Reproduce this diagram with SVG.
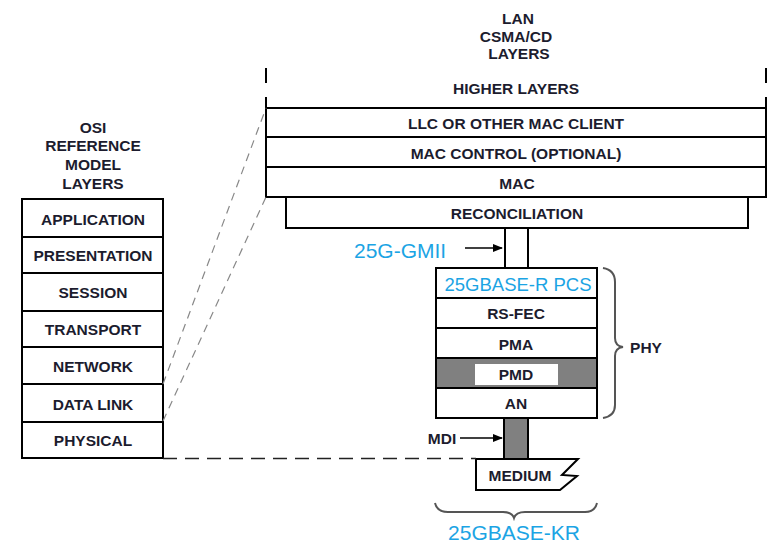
<svg xmlns="http://www.w3.org/2000/svg" width="767" height="542" viewBox="0 0 767 542">
<defs>
<style>
.t{font-family:"Liberation Sans",Arial,sans-serif;font-size:15.5px;font-weight:bold;fill:#1c1c2e;text-anchor:middle;dominant-baseline:central}
.b{font-family:"Liberation Sans",Arial,sans-serif;fill:#1ba4e4;dominant-baseline:central}
.box{fill:#fff;stroke:#000;stroke-width:2}
.gray{fill:#808080;stroke:#000;stroke-width:2}
.ln{stroke:#000;stroke-width:2;fill:none}
.dash{stroke:#888;stroke-width:1.2;stroke-dasharray:8 6;fill:none}
.dash2{stroke:#222;stroke-width:1.5;stroke-dasharray:14 8;fill:none}
.brace{stroke:#555;stroke-width:2;fill:none}
</style>
<marker id="arr" viewBox="0 0 10 10" refX="9" refY="5" markerWidth="10" markerHeight="10" markerUnits="userSpaceOnUse" orient="auto">
<path d="M0,1 L10,5 L0,9 z" fill="#000"/>
</marker>
</defs>
<rect width="767" height="542" fill="#fff"/>

<g id="osi-title">
<text class="t" x="93" y="127">OSI</text>
<text class="t" x="93" y="145">REFERENCE</text>
<text class="t" x="93" y="164">MODEL</text>
<text class="t" x="93" y="183">LAYERS</text>
</g>
<g id="osi-application"><rect class="box" x="22" y="199" width="141" height="38"/><text class="t" x="93" y="219">APPLICATION</text></g>
<g id="osi-presentation"><rect class="box" x="22" y="237" width="141" height="36"/><text class="t" x="93" y="255">PRESENTATION</text></g>
<g id="osi-session"><rect class="box" x="22" y="273" width="141" height="38"/><text class="t" x="93" y="292">SESSION</text></g>
<g id="osi-transport"><rect class="box" x="22" y="311" width="141" height="36"/><text class="t" x="93" y="329">TRANSPORT</text></g>
<g id="osi-network"><rect class="box" x="22" y="347" width="141" height="37"/><text class="t" x="93" y="366">NETWORK</text></g>
<g id="osi-datalink"><rect class="box" x="22" y="384" width="141" height="38"/><text class="t" x="93" y="404">DATA LINK</text></g>
<g id="osi-physical"><rect class="box" x="22" y="422" width="141" height="36"/><text class="t" x="93" y="440">PHYSICAL</text></g>

<g id="lan-title">
<text class="t" x="518" y="18">LAN</text>
<text class="t" x="516" y="36">CSMA/CD</text>
<text class="t" x="519" y="53">LAYERS</text>
</g>
<g id="higher-layers">
<line class="ln" x1="266" y1="68" x2="266" y2="83"/>
<line class="ln" x1="766" y1="68" x2="766" y2="83"/>
<line class="ln" x1="266" y1="97" x2="266" y2="108"/>
<line class="ln" x1="766" y1="97" x2="766" y2="108"/>
<text class="t" x="516" y="88">HIGHER LAYERS</text>
</g>
<g id="llc"><rect class="box" x="266" y="108" width="500" height="29"/><text class="t" x="516" y="123">LLC OR OTHER MAC CLIENT</text></g>
<g id="mac-control"><rect class="box" x="266" y="137" width="500" height="30"/><text class="t" x="516" y="153">MAC CONTROL (OPTIONAL)</text></g>
<g id="mac"><rect class="box" x="266" y="167" width="500" height="30"/><text class="t" x="517" y="183">MAC</text></g>
<g id="reconciliation"><rect class="box" x="286" y="197" width="462" height="31"/><text class="t" x="517" y="213">RECONCILIATION</text></g>

<g id="pcs"><rect class="box" x="436" y="268" width="161" height="30"/><text class="b" x="518" y="284" font-size="18.5" text-anchor="middle">25GBASE-R PCS</text></g>
<g id="rs-fec"><rect class="box" x="436" y="298" width="161" height="30"/><text class="t" x="516" y="313">RS-FEC</text></g>
<g id="pma"><rect class="box" x="436" y="328" width="161" height="30"/><text class="t" x="516" y="344">PMA</text></g>
<g id="pmd"><rect class="gray" x="436" y="358" width="161" height="30"/><rect x="475" y="364" width="83" height="21" fill="#fff"/><text class="t" x="516" y="374">PMD</text></g>
<g id="an"><rect class="box" x="436" y="388" width="161" height="30"/><text class="t" x="516" y="403">AN</text></g>

<g id="mdi-bar"><rect class="gray" x="504" y="418" width="24" height="41"/></g>
<g id="medium">
<path d="M476,459 L578,459 L562,475 L577,476 L560,490 L476,490 Z" fill="#fff" stroke="#000" stroke-width="2" stroke-linejoin="miter"/>
<text class="t" x="520" y="475">MEDIUM</text>
</g>

<g id="gmii-label"><text class="b" x="354" y="250" font-size="21">25G-GMII</text></g>
<g id="mdi-label"><text class="t" x="442" y="438">MDI</text></g>
<g id="phy-label">
<path class="brace" d="M603,268 Q615,270 615,282 L615,338 Q615,346 623,347 Q615,348 615,356 L615,405 Q615,416 603,418"/>
<text class="t" x="646" y="347">PHY</text>
</g>
<g id="kr-label">
<path class="brace" d="M435,503 Q437,512 448,512 L503,512 Q512,512 514,518 Q516,512 525,512 L585,512 Q595,512 597,503"/>
<text class="b" x="514" y="532" font-size="21" text-anchor="middle">25GBASE-KR</text>
</g>

<g id="connectors">
<line class="ln" x1="266" y1="108" x2="266" y2="197"/>
<line class="dash" x1="163" y1="384" x2="266" y2="108"/>
<line class="dash" x1="163" y1="421" x2="266" y2="197"/>
<line class="dash2" x1="163" y1="458.5" x2="476" y2="458.5"/>
<line class="ln" x1="505" y1="228" x2="505" y2="268"/>
<line class="ln" x1="528" y1="228" x2="528" y2="268"/>
<line x1="465" y1="248" x2="502" y2="248" stroke="#000" stroke-width="1.6" marker-end="url(#arr)"/>
<line x1="460" y1="438" x2="502" y2="438" stroke="#000" stroke-width="1.6" marker-end="url(#arr)"/>
</g>
</svg>
